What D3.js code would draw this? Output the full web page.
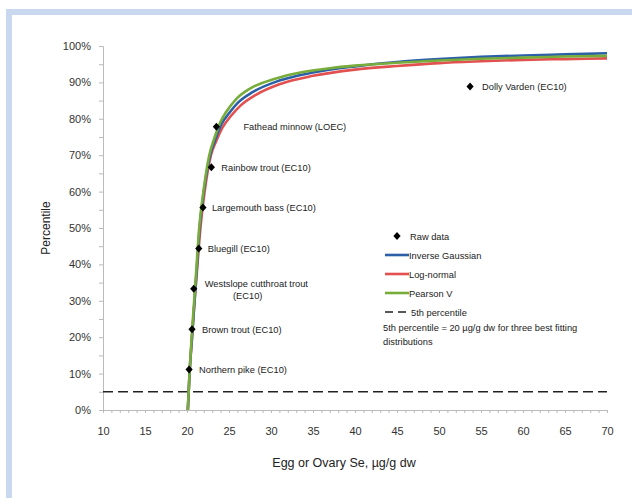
<!DOCTYPE html>
<html><head><meta charset="utf-8">
<script src="https://cdn.jsdelivr.net/npm/d3@7"></script>
<style>
html,body{margin:0;padding:0;background:#fff;}
svg{display:block;font-family:"Liberation Sans",Arial,sans-serif;}
</style></head>
<body>
<svg id="chart" width="632" height="498"></svg>
<script>
// ---- data ----
const xTicks = [10,15,20,25,30,35,40,45,50,55,60,65,70];
const yTicks = [0,10,20,30,40,50,60,70,80,90,100];
const species = ["Northern pike (EC10)","Brown trout (EC10)","Westslope cutthroat trout|(EC10)","Bluegill (EC10)","Largemouth bass (EC10)","Rainbow trout (EC10)","Fathead minnow (LOEC)","Dolly Varden (EC10)"];
const rawX = [20.25,20.6,20.8,21.4,21.9,22.9,23.5,53.7];
const rawY = [11.1,22.2,33.3,44.4,55.6,66.7,77.8,88.9];
const labelDx = [10,10,11,9,9,10,27,12];

const igX = [20.1,20.3,20.6,20.9,21.2,21.5,22.0,22.75,23.4,24.1,25.0,26.1,27.8,31,35,40,45,50,55,60,65,70];
const igY = [0,10,20,30,40,50,60,70,74.5,78.5,81.5,84.5,87.3,90.5,92.7,94.4,95.6,96.4,97,97.4,97.7,98];
const lnX = [20.1,20.3,20.6,20.9,21.25,21.6,22.1,22.85,23.5,24.2,25.2,26.4,28.2,31,35,40,45,50,55,60,65,70];
const lnY = [0,10,20,30,40,50,60,70,74,77.5,80.7,83.7,86.6,89.5,91.8,93.5,94.5,95.3,95.8,96.2,96.4,96.6];
const pvX = [20.1,20.3,20.55,20.85,21.15,21.45,21.95,22.65,23.3,23.95,24.7,25.8,27.5,30.5,33.5,37,40,45,50,55,60,65,70];
const pvY = [0,10,20,30,40,50,60,70,75,79,82,85.3,88.3,91,92.7,93.9,94.6,95.4,96,96.5,96.8,97.1,97.3];
const fifth = 5;

const seriesNames = ["Inverse Gaussian","Log-normal","Pearson V"];
const seriesColors = ["#2b5fa6","#e2504f","#78ad3b"];

// ---- drawing ----
const svg = d3.select("#chart");
// frame
svg.append("rect").attr("x",6).attr("y",9).attr("width",626).attr("height",6).attr("fill","#c9d7ef");
svg.append("rect").attr("x",6).attr("y",9).attr("width",6).attr("height",489).attr("fill","#c9d7ef");

const x = d3.scaleLinear().domain([10,70]).range([103,607]);
const y = d3.scaleLinear().domain([0,100]).range([410,46]);

// y axis
const yAxis = d3.axisLeft(y).tickValues(d3.range(0,101,5)).tickSize(4)
  .tickFormat(d => yTicks.includes(d) ? d+"%" : "");
const gy = svg.append("g").attr("transform","translate(103,0)").call(yAxis);
gy.select(".domain").attr("stroke","#bbb");
gy.selectAll(".tick line").attr("stroke","#bbb");
gy.selectAll("text").attr("font-size",11).attr("fill","#333").attr("x",-12);

// x axis
const xAxis = d3.axisBottom(x).tickValues(d3.range(10,71,1)).tickSize(3)
  .tickFormat(d => xTicks.includes(d) ? d : "");
const gx = svg.append("g").attr("transform","translate(0,410)").call(xAxis);
gx.select(".domain").attr("stroke","#bbb");
gx.selectAll(".tick line").attr("stroke","#bbb");
gx.selectAll("text").attr("font-size",11).attr("fill","#333").attr("y",17);

// axis titles
svg.append("text").attr("x",344).attr("y",467).attr("text-anchor","middle")
  .attr("font-size",12.5).attr("fill","#222").text("Egg or Ovary Se, µg/g dw");
svg.append("text").attr("transform","translate(50,228) rotate(-90)").attr("text-anchor","middle")
  .attr("font-size",12).attr("fill","#222").text("Percentile");

// 5th percentile line
svg.append("line").attr("x1",x(10)).attr("x2",x(70)).attr("y1",y(fifth)).attr("y2",y(fifth))
  .attr("stroke","#222").attr("stroke-width",1.6).attr("stroke-dasharray","10,5");

// curves
const line = d3.line().x(d=>x(d[0])).y(d=>y(d[1])).curve(d3.curveMonotoneX);
const series = [
  {xs:lnX, ys:lnY, c:seriesColors[1]},
  {xs:igX, ys:igY, c:seriesColors[0]},
  {xs:pvX, ys:pvY, c:seriesColors[2]}
];
series.forEach(s=>{
  svg.append("path").datum(s.xs.map((v,i)=>[v,s.ys[i]]))
    .attr("d",line).attr("fill","none").attr("stroke",s.c).attr("stroke-width",2.6);
});

// raw points
const diamond = "M0,-4L3.6,0L0,4L-3.6,0Z";
rawX.forEach((v,i)=>{
  svg.append("path").attr("d",diamond).attr("transform",`translate(${x(v)},${y(rawY[i])})`).attr("fill","#000");
  const parts = species[i].split("|");
  const t = svg.append("text").attr("x",x(v)+labelDx[i]).attr("y",y(rawY[i])+3.5)
    .attr("font-size",9.3).attr("fill","#222");
  if(parts.length===1){ t.text(parts[0]); }
  else {
    t.attr("y",y(rawY[i])-1.5).text(parts[0]);
    svg.append("text").attr("x",x(v)+labelDx[i]+43).attr("y",y(rawY[i])+10.5)
      .attr("font-size",9.3).attr("fill","#222").attr("text-anchor","middle").text(parts[1]);
  }
});

// legend
const lg = svg.append("g").attr("font-size",9.3).attr("fill","#222");
lg.append("path").attr("d",diamond).attr("transform","translate(397,236)").attr("fill","#000");
lg.append("text").attr("x",410).attr("y",239.5).text("Raw data");
seriesNames.forEach((n,i)=>{
  const yy = 255 + i*19;
  lg.append("line").attr("x1",385).attr("x2",409).attr("y1",yy).attr("y2",yy)
    .attr("stroke",seriesColors[i]).attr("stroke-width",2.6);
  lg.append("text").attr("x",409).attr("y",yy+3.5).text(n);
});
lg.append("line").attr("x1",385).attr("x2",409).attr("y1",312).attr("y2",312)
  .attr("stroke","#222").attr("stroke-width",1.4).attr("stroke-dasharray","8,5");
lg.append("text").attr("x",411).attr("y",315.5).text("5th percentile");
lg.append("text").attr("x",383).attr("y",331).text("5th percentile = 20 µg/g dw for three best fitting");
lg.append("text").attr("x",383).attr("y",345).text("distributions");
</script>
</body></html>
